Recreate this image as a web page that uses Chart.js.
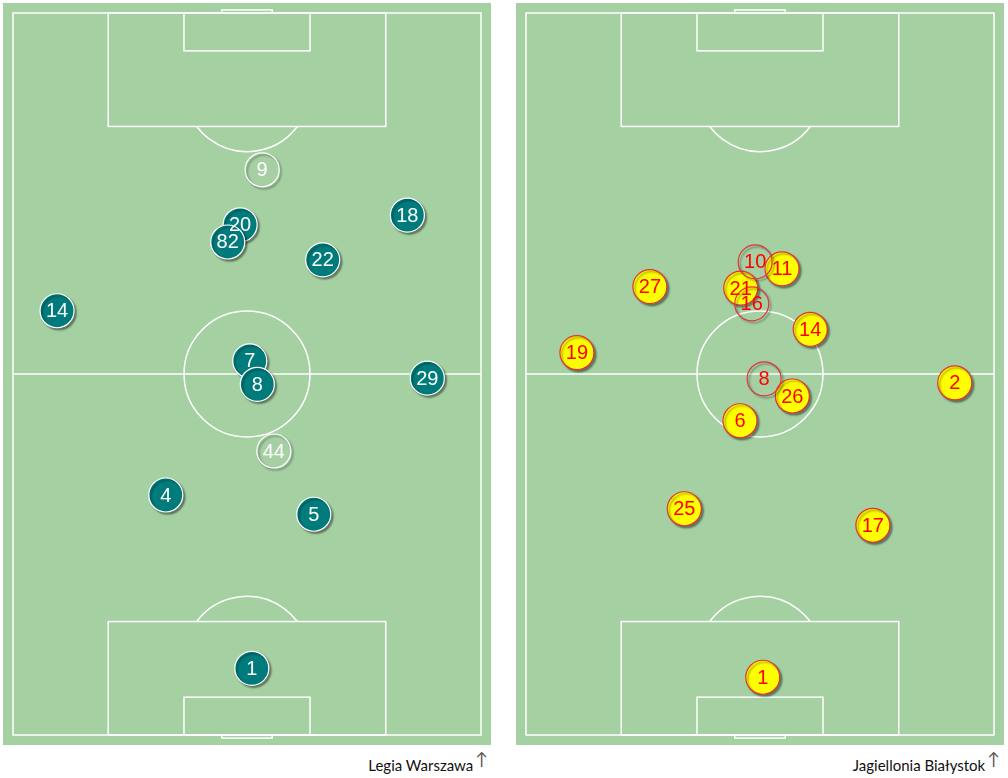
<!DOCTYPE html>
<html>
<head>
<meta charset="utf-8">
<script src="https://cdn.jsdelivr.net/npm/chart.js@4.4.0/dist/chart.umd.min.js"></script>
<style>
  body { margin: 0; background: #fff; width: 1008px; height: 778px; position: relative; overflow: hidden; }
  canvas { position: absolute; top: 3px; background: #a4d0a2; }
  #legia { left: 3px; }
  #jaga { left: 516px; }
  .team { position: absolute; top: 754px; font: 15px Lato, "Open Sans", sans-serif; color: #111; white-space: nowrap; }
  .team span { color: #555; font-size: 17px; margin-left: 2px; position: relative; top: -6px; }
</style>
</head>
<body>
<canvas id="legia" width="488" height="742"></canvas>
<canvas id="jaga" width="488" height="742"></canvas>
<div class="team" style="right: 520px;">Legia Warszawa<span>↑</span></div>
<div class="team" style="right: 8px;">Jagiellonia Białystok<span>↑</span></div>
<script>
// pitch is 68 x 105 metres, y counted from the top goal line
const legiaNumbers = ['9', '44', '20', '82', '18', '22', '14', '7', '8', '29', '4', '5', '1'];
const legiaX = [36.2, 37.9, 33.0, 31.2, 57.3, 45.0, 6.4, 34.4, 35.5, 60.2, 22.2, 43.7, 34.7];
const legiaY = [22.8, 63.7, 30.8, 33.3, 29.4, 35.9, 43.3, 50.6, 54.0, 53.1, 70.1, 72.9, 95.3];
const legiaSub = [true, true, false, false, false, false, false, false, false, false, false, false, false];

const jagaNumbers = ['10', '16', '8', '11', '21', '27', '14', '19', '26', '6', '2', '25', '17', '1'];
const jagaX = [33.3, 32.8, 34.6, 37.2, 31.2, 18.0, 41.3, 7.4, 38.7, 31.1, 62.3, 23.0, 50.4, 34.4];
const jagaY = [36.2, 42.3, 53.2, 37.2, 40.0, 39.8, 46.0, 49.4, 55.7, 59.3, 53.8, 72.1, 74.5, 96.6];
const jagaSub = [true, true, true, false, false, false, false, false, false, false, false, false, false, false];

function pitchLines(chart) {
  const ctx = chart.ctx;
  const x = chart.scales.x, y = chart.scales.y;
  const px = v => x.getPixelForValue(v);
  const py = v => y.getPixelForValue(v);
  const rect = (x0, y0, x1, y1) => ctx.strokeRect(px(x0), py(y0), px(x1) - px(x0), py(y1) - py(y0));
  const r = px(9.15) - px(0);
  const a = Math.asin(5.5 / 9.15);
  ctx.save();
  ctx.strokeStyle = '#fff';
  ctx.lineWidth = 1.5;
  rect(0, 0, 68, 105);
  ctx.beginPath();
  ctx.moveTo(px(0), py(52.5));
  ctx.lineTo(px(68), py(52.5));
  ctx.stroke();
  ctx.beginPath();
  ctx.arc(px(34), py(52.5), r, 0, Math.PI * 2);
  ctx.stroke();
  // top end
  rect(13.84, 0, 54.16, 16.5);
  rect(24.84, 0, 43.16, 5.5);
  rect(30.34, -0.45, 37.66, 0);
  ctx.beginPath();
  ctx.arc(px(34), py(11), r, a, Math.PI - a);
  ctx.stroke();
  // bottom end
  rect(13.84, 88.5, 54.16, 105);
  rect(24.84, 99.5, 43.16, 105);
  rect(30.34, 105, 37.66, 105.45);
  ctx.beginPath();
  ctx.arc(px(34), py(94), r, Math.PI + a, Math.PI * 2 - a);
  ctx.stroke();
  ctx.restore();
}

const pitchPlugin = {
  id: 'pitch',
  beforeDatasetsDraw(chart) {
    pitchLines(chart);
    chart.ctx.save();
    chart.ctx.shadowColor = 'rgba(0,0,0,0.4)';
    chart.ctx.shadowOffsetX = 2;
    chart.ctx.shadowOffsetY = 2;
    chart.ctx.shadowBlur = 2;
  },
  afterDatasetsDraw(chart) {
    const ctx = chart.ctx;
    ctx.restore();
    ctx.save();
    ctx.font = '20px "Liberation Sans", Arial, sans-serif';
    ctx.textAlign = 'center';
    ctx.textBaseline = 'middle';
    chart.data.datasets.forEach((ds, i) => {
      const meta = chart.getDatasetMeta(i);
      ctx.fillStyle = ds.textColor;
      meta.data.forEach((pt, j) => {
        ctx.fillText(ds.data[j].label, pt.x, pt.y + 1);
      });
    });
    ctx.restore();
  }
};

function makePitch(id, numbers, xs, ys, subs, fill, edge, text) {
  const pts = numbers.map((n, i) => ({ x: xs[i], y: ys[i], label: n, sub: subs[i] }));
  const faded = pts.filter(p => p.sub);
  const starters = pts.filter(p => !p.sub);
  new Chart(document.getElementById(id), {
    type: 'scatter',
    data: {
      datasets: [
        { data: faded, pointRadius: 17, backgroundColor: 'rgba(255,255,255,0.04)', borderColor: edge, borderWidth: 1.2, textColor: text },
        { data: starters, pointRadius: 17, backgroundColor: fill, borderColor: edge, borderWidth: 1.2, textColor: text }
      ]
    },
    options: {
      responsive: false,
      animation: false,
      layout: { padding: 10, autoPadding: false },
      plugins: { legend: { display: false }, tooltip: { enabled: false } },
      scales: {
        x: { type: 'linear', min: 0, max: 68, display: false },
        y: { type: 'linear', min: 0, max: 105, reverse: true, display: false }
      }
    },
    plugins: [pitchPlugin]
  });
}

makePitch('legia', legiaNumbers, legiaX, legiaY, legiaSub, '#007b7b', '#ffffff', '#ffffff');
makePitch('jaga', jagaNumbers, jagaX, jagaY, jagaSub, '#ffff00', '#e8303a', '#ff0000');
</script>
</body>
</html>
